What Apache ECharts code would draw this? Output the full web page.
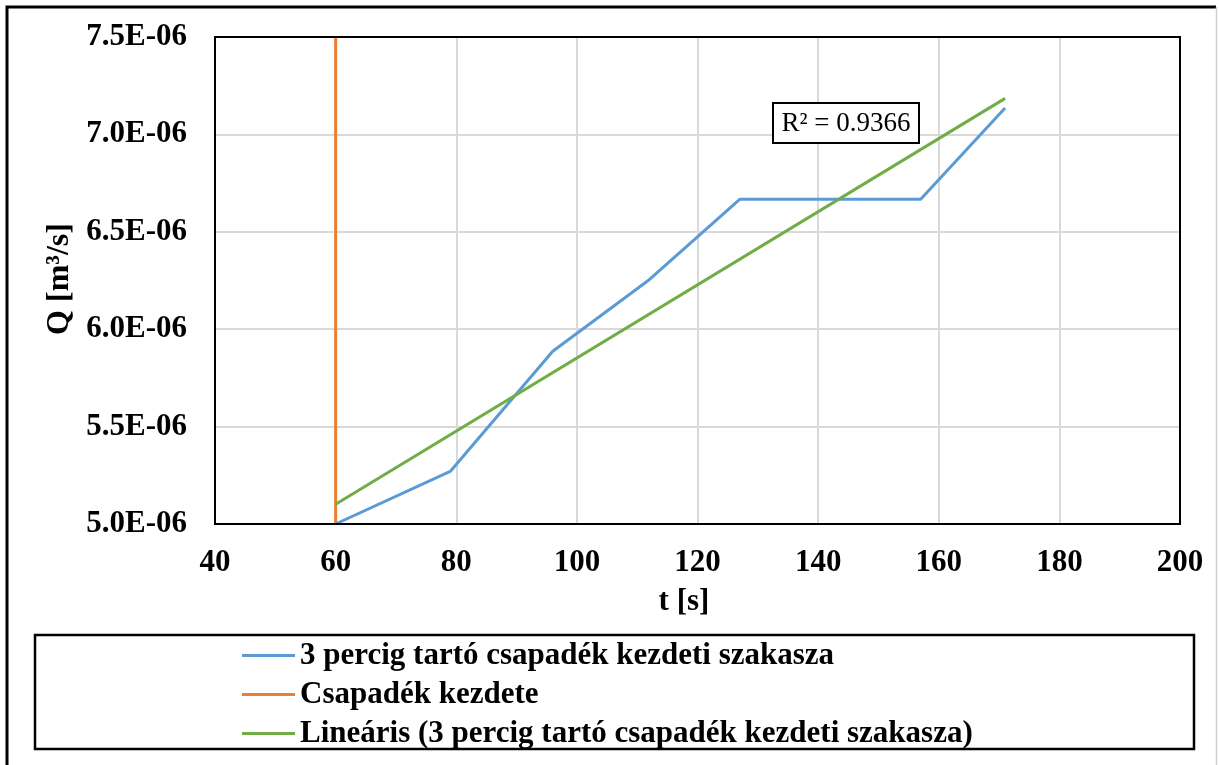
<!DOCTYPE html>
<html>
<head>
<meta charset="utf-8">
<script src="https://cdn.jsdelivr.net/npm/echarts@6/dist/echarts.min.js"></script>
<style>
  html, body { margin: 0; padding: 0; background: #fff; }
  #chart { width: 1219px; height: 765px; }
</style>
</head>
<body>
<div id="chart"></div>
<script>
// Runoff of the first phase of a 3-minute rainfall event
const timeSec = [60, 79, 96, 112, 127, 157, 171];
const flowQ = [5.00e-6, 5.27e-6, 5.887e-6, 6.254e-6, 6.667e-6, 6.667e-6, 7.136e-6];
// Rainfall start marker (vertical line at t = 60 s)
const startT = [60, 60];
const startQ = [5.0e-6, 7.5e-6];
const xTicks = [40, 60, 80, 100, 120, 140, 160, 180, 200];
const yTicks = [5.0e-6, 5.5e-6, 6.0e-6, 6.5e-6, 7.0e-6, 7.5e-6];
const rSquaredText = 'R² = 0.9366';

const seriesNames = [
  '3 percig tartó csapadék kezdeti szakasza',
  'Csapadék kezdete',
  'Lineáris (3 percig tartó csapadék kezdeti szakasza)'
];

// Least-squares linear trend of the measured series
function linearFit(xs, ys) {
  const n = xs.length;
  const mx = xs.reduce((a, b) => a + b, 0) / n;
  const my = ys.reduce((a, b) => a + b, 0) / n;
  let sxy = 0, sxx = 0;
  for (let i = 0; i < n; i++) {
    sxy += (xs[i] - mx) * (ys[i] - my);
    sxx += (xs[i] - mx) * (xs[i] - mx);
  }
  const slope = sxy / sxx;
  return { slope: slope, intercept: my - slope * mx };
}
const fit = linearFit(timeSec, flowQ);
const trendT = [timeSec[0], timeSec[timeSec.length - 1]];
const trendData = trendT.map(t => [t, fit.intercept + fit.slope * t]);

const FONT = '"Liberation Serif", "Times New Roman", serif';

function sciLabel(v) {
  const parts = v.toExponential(1).split('e');
  const ex = parseInt(parts[1], 10);
  return parts[0] + 'E' + (ex < 0 ? '-' : '+') + String(Math.abs(ex)).padStart(2, '0');
}

const chart = echarts.init(document.getElementById('chart'), null, { renderer: 'canvas' });

chart.setOption({
  backgroundColor: '#ffffff',
  animation: false,
  grid: { left: 215, right: 39, top: 37, bottom: 241, show: false },
  xAxis: {
    type: 'value',
    min: xTicks[0],
    max: xTicks[xTicks.length - 1],
    interval: 20,
    axisLine: { show: true, onZero: false, lineStyle: { color: '#000', width: 2 } },
    axisTick: { show: false },
    splitLine: { show: true, lineStyle: { color: '#d9d9d9', width: 2 } },
    axisLabel: {
      margin: 23,
      fontFamily: FONT, fontWeight: 'bold', fontSize: 31, color: '#000'
    }
  },
  yAxis: {
    type: 'value',
    min: yTicks[0],
    max: yTicks[yTicks.length - 1],
    interval: 0.5e-6,
    axisLine: { show: true, onZero: false, lineStyle: { color: '#000', width: 2 } },
    axisTick: { show: false },
    splitLine: { show: true, lineStyle: { color: '#d9d9d9', width: 2 } },
    axisLabel: {
      margin: 28,
      formatter: sciLabel,
      fontFamily: FONT, fontWeight: 'bold', fontSize: 31, color: '#000'
    }
  },
  legend: {
    orient: 'vertical',
    left: 237,
    top: 635,
    icon: 'rect',
    itemWidth: 53,
    itemHeight: 3,
    itemGap: 8,
    data: seriesNames,
    textStyle: {
      fontFamily: FONT, fontWeight: 'bold', fontSize: 31, color: '#000', lineHeight: 30
    }
  },
  series: [
    {
      name: seriesNames[0],
      type: 'line',
      data: timeSec.map((t, i) => [t, flowQ[i]]),
      showSymbol: false,
      lineStyle: { color: '#5B9BD5', width: 3 },
      itemStyle: { color: '#5B9BD5' },
      z: 3
    },
    {
      name: seriesNames[1],
      type: 'line',
      data: startT.map((t, i) => [t, startQ[i]]),
      showSymbol: false,
      lineStyle: { color: '#ED7D31', width: 3 },
      itemStyle: { color: '#ED7D31' },
      z: 2
    },
    {
      name: seriesNames[2],
      type: 'line',
      data: trendData,
      showSymbol: false,
      lineStyle: { color: '#70AD47', width: 3 },
      itemStyle: { color: '#70AD47' },
      z: 4
    }
  ],
  graphic: [
    // plot area frame
    {
      type: 'rect', shape: { x: 215, y: 37, width: 965, height: 487 },
      style: { fill: 'none', stroke: '#000', lineWidth: 2 }, z: 10, silent: true
    },
    // y axis title
    {
      type: 'text', x: 60, y: 279, rotation: Math.PI / 2,
      style: {
        text: 'Q [m³/s]', font: 'bold 32px ' + FONT, fill: '#000',
        align: 'center', verticalAlign: 'middle'
      }
    },
    // x axis title
    {
      type: 'text', x: 684, y: 602,
      style: {
        text: 't [s]', font: 'bold 31px ' + FONT, fill: '#000',
        align: 'center', verticalAlign: 'middle'
      }
    },
    // R² annotation
    {
      type: 'rect', shape: { x: 773, y: 103, width: 146, height: 40 },
      style: { fill: '#fff', stroke: '#000', lineWidth: 2 }, z: 20
    },
    {
      type: 'text', x: 846, y: 124, z: 21,
      style: {
        text: rSquaredText, font: '27px ' + FONT, fill: '#000',
        align: 'center', verticalAlign: 'middle'
      }
    },
    // legend frame
    {
      type: 'rect', shape: { x: 35, y: 635, width: 1159, height: 114 },
      style: { fill: 'none', stroke: '#000', lineWidth: 2.5 }, silent: true
    },
    // chart outer frame
    {
      type: 'polyline', shape: { points: [[7, 765], [7, 7], [1216, 7]] },
      style: { fill: 'none', stroke: '#000', lineWidth: 3 }, silent: true
    },
    {
      type: 'line', shape: { x1: 1216.5, y1: 7, x2: 1216.5, y2: 765 },
      style: { stroke: '#d0d0d0', lineWidth: 1.5 }, silent: true
    }
  ]
});
</script>
</body>
</html>
